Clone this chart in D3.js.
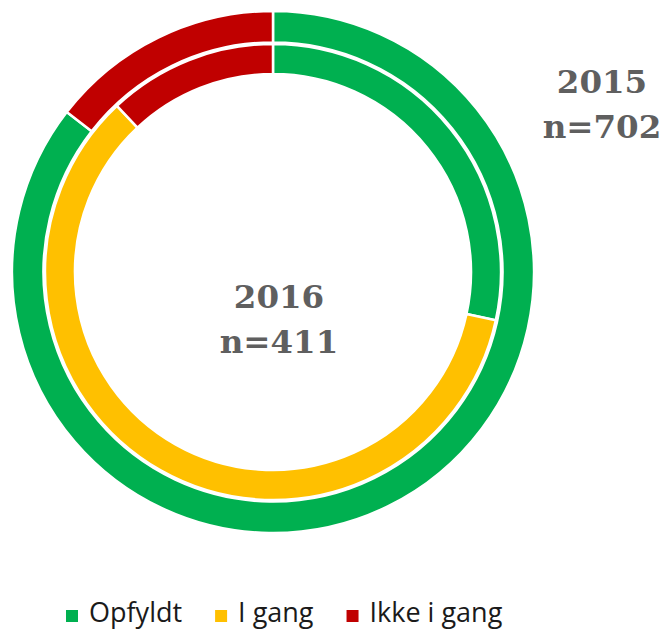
<!DOCTYPE html>
<html>
<head>
<meta charset="utf-8">
<script src="https://cdn.jsdelivr.net/npm/d3@7"></script>
<style>
  html, body { margin: 0; padding: 0; background: #fff; }
  svg { display: block; }
</style>
</head>
<body>
<svg id="chart" width="663" height="630"></svg>
<script>
// Data
const categories = ["Opfyldt", "I gang", "Ikke i gang"];
const colors = ["#00B050", "#FFC000", "#C00000"];
const values2015 = [85.5, 0, 14.5];   // outer ring, percent
const values2016 = [28.4, 59.6, 12.0]; // inner ring, percent
const label2015 = ["2015", "n=702"];
const label2016 = ["2016", "n=411"];

const svg = d3.select("#chart");
const cx = 273, cy = 272;
const g = svg.append("g").attr("transform", `translate(${cx},${cy})`);

const pie = d3.pie().sort(null).value(d => d.v);
const toData = vals => vals.map((v, i) => ({ v, i }));

const outerArc = d3.arc().innerRadius(229.5).outerRadius(261);
const innerArc = d3.arc().innerRadius(198).outerRadius(228);

function ring(vals, arc) {
  g.append("g").selectAll("path")
    .data(pie(toData(vals)).filter(d => d.data.v > 0))
    .join("path")
    .attr("d", arc)
    .attr("fill", d => colors[d.data.i])
    .attr("stroke", "#fff")
    .attr("stroke-width", 2.5)
    .attr("stroke-linejoin", "miter");
}
ring(values2015, outerArc);
ring(values2016, innerArc);

// Labels
const labelFont = "'DejaVu Serif', 'Liberation Serif', serif";
function label(lines, x, y0, dy) {
  svg.append("text")
    .attr("text-anchor", "middle")
    .attr("font-family", labelFont)
    .attr("font-weight", "bold")
    .attr("font-size", 32.5)
    .attr("fill", "#5f5f5f")
    .selectAll("tspan")
    .data(lines)
    .join("tspan")
    .attr("x", x)
    .attr("y", (d, i) => y0 + i * dy)
    .text(d => d);
}
label(label2015, 602, 93, 45);
label(label2016, 279, 308, 45);

// Legend
const legend = svg.append("g");
let x = 66;
const ly = 622;
categories.forEach((c, i) => {
  legend.append("rect")
    .attr("x", x).attr("y", 610)
    .attr("width", 12).attr("height", 12)
    .attr("fill", colors[i]);
  const t = legend.append("text")
    .attr("x", x + 23).attr("y", ly)
    .attr("font-family", "'Open Sans', 'Noto Sans', sans-serif")
    .attr("font-size", 27)
    .attr("fill", "#1a1a1a")
    .text(c);
  x = x + 23 + t.node().getComputedTextLength() + 33;
});
</script>
</body>
</html>
